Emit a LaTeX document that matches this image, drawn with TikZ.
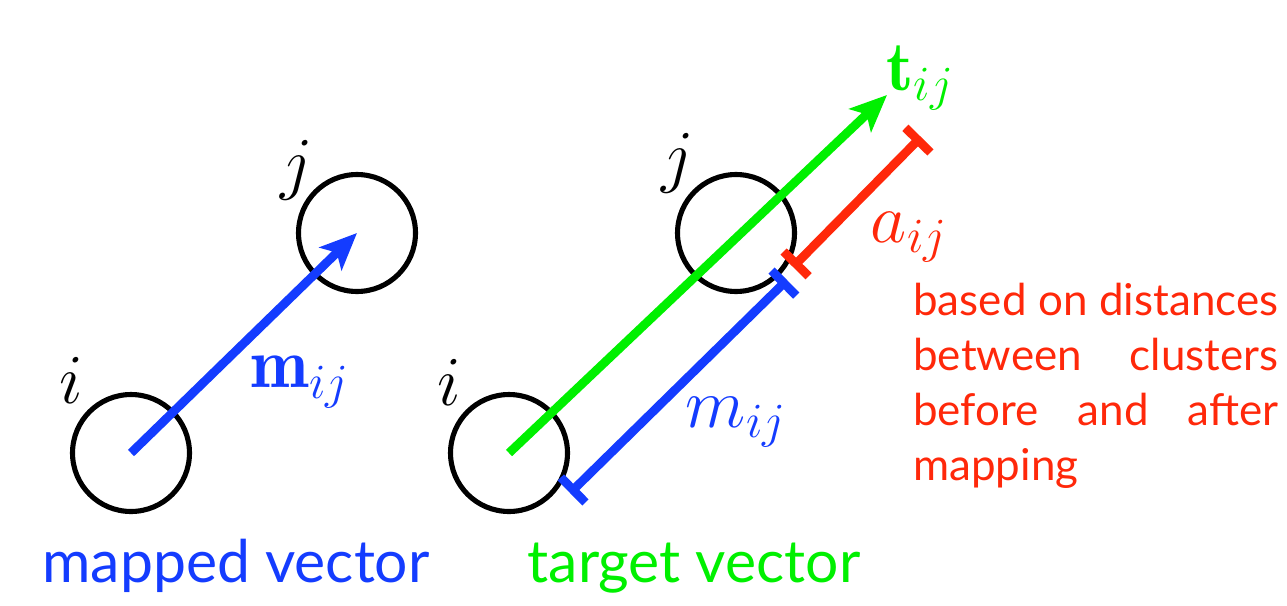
\RequirePackage{fix-cm}
\documentclass[tikz,border=0pt]{standalone}
\usepackage{amsmath}
\usepackage{fontspec}
\newfontfamily\captionfont{Lato}
\usetikzlibrary{arrows.meta}
\definecolor{vecblue}{RGB}{20,60,255}
\definecolor{vecgreen}{RGB}{0,240,0}
\definecolor{vecred}{RGB}{255,40,10}
\tikzset{
    cluster/.style={
        draw,
        circle,
        line width=2.9pt,
        minimum size=2.34cm,
        inner sep=0pt
    },
    mathlabel/.style={
        inner sep=0pt,
        font=\fontsize{40}{46}\selectfont
    },
    captiontext/.style={
        inner sep=0pt,
        anchor=base,
        font=\captionfont\fontsize{33.5}{38}\selectfont
    },
    notetext/.style={
        inner sep=0pt,
        anchor=north west,
        align=justify,
        text width=7.3cm,
        text=vecred,
        font=\captionfont\fontsize{25}{31.3}\selectfont
    },
    vecarrow/.style={line width=5pt, -{Stealth[length=21pt,width=18pt,inset=5pt]}},
    lenbar/.style={line width=5pt, {Bar[width=20pt]}-{Bar[width=20pt]}}
}

\begin{document}
\begin{tikzpicture}[x=0.02cm, y=-0.02cm]

\useasboundingbox (0,0) rectangle (1287,605);

% ------------------------------------------------------------
% Mapped vector
% ------------------------------------------------------------

\node[cluster] (li) at (131,453) {};
\node[cluster] (lj) at (357,233) {};

\node[mathlabel] (lilabel) at (71,380) {$i$};
\node[mathlabel] (ljlabel) at (297,170) {$j$};

\draw[vecarrow, vecblue] (li.center) -- (lj.center);

\node[mathlabel, text=vecblue] (mvec) at (300,382) {$\mathbf{m}_{ij}$};

\node[captiontext, text=vecblue] (mcaption) at (236,582) {mapped vector};


% ------------------------------------------------------------
% Target vector
% ------------------------------------------------------------

\node[cluster] (ri) at (509,453) {};
\node[cluster] (rj) at (736,233) {};

\node[mathlabel] (rilabel) at (449,382) {$i$};
\node[mathlabel] (rjlabel) at (678,163) {$j$};

\coordinate (ttip) at (887,95);
\coordinate (mstart) at (570,493);
\coordinate (mend) at (787,280);
\coordinate (astart) at (793,267);
\coordinate (aend) at (921,137);

\draw[vecarrow, vecgreen] (ri.center) -- (ttip);
\draw[lenbar, vecblue] (mstart) -- (mend);
\draw[lenbar, vecred] (astart) -- (aend);

\node[mathlabel, text=vecgreen] (tvec) at (920,78) {$\mathbf{t}_{ij}$};
\node[mathlabel, text=vecred] (alen) at (909,237) {$a_{ij}$};
\node[mathlabel, text=vecblue] (mlen) at (736,422) {$m_{ij}$};

\node[captiontext, text=vecgreen] (tcaption) at (694,582) {target vector};

\node[notetext] (note) at (913,283)
{based on distances\linebreak between clusters\linebreak before and after\linebreak mapping};

\end{tikzpicture}
\end{document}
